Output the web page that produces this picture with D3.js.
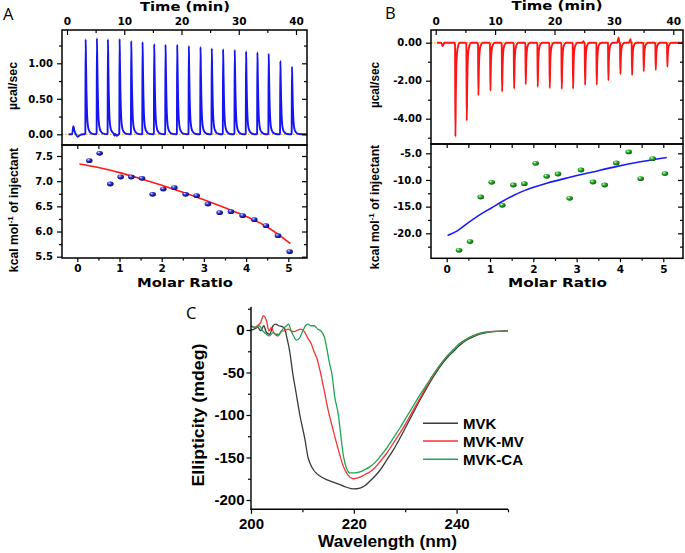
<!DOCTYPE html>
<html><head><meta charset="utf-8">
<script src="https://cdn.jsdelivr.net/npm/d3@7"></script>
<style>body{margin:0;background:#fff}svg{display:block}</style>
</head><body><svg id="c" width="685" height="553"></svg>
<script>
// ---------------- DATA ----------------
const timeTicks = [0, 10, 20, 30, 40];
const timeMinor = [5, 15, 25, 35];
const molarTicks = [0, 1, 2, 3, 4, 5];
const molarMinor = [0.5, 1.5, 2.5, 3.5, 4.5];

// Panel A raw ITC (µcal/sec)
const injTimeA = [3.20, 5.17, 7.09, 9.13, 11.16, 13.14, 15.17, 17.15, 19.19, 21.22, 23.26, 25.23, 27.21, 29.24, 31.22, 33.20, 35.17, 37.21, 39.24];
const injPeakA = [1.338, 1.352, 1.338, 1.343, 1.315, 1.300, 1.272, 1.263, 1.263, 1.244, 1.230, 1.210, 1.200, 1.188, 1.169, 1.155, 1.136, 1.033, 0.953];
const spikeDtA = [-0.1, 0, 0.06, 0.12, 0.2, 0.3, 0.4, 0.55, 0.75, 1.0, 1.3];
const spikeFrA = [0, 0.01, 1, 0.75, 0.45, 0.22, 0.12, 0.06, 0.03, 0.012, 0.004];
const extraA = [[0.9, 0], [1.1, 0.115], [1.3, 0.05], [1.55, 0.0], [1.87, -0.034], [2.3, -0.01], [2.8, 0], [8.3, -0.018], [8.7, -0.02], [9.0, -0.005]];
const yTicksA1 = [0, 0.5, 1.0];
const yMinorA1 = [0.25, 0.75, 1.25];

// Panel A integrated heats (kcal/mol of injectant)
const molarA = [0.284, 0.529, 0.782, 1.027, 1.280, 1.532, 1.785, 2.038, 2.299, 2.567, 2.828, 3.096, 3.373, 3.641, 3.918, 4.194, 4.471, 4.755, 5.032];
const kcalA = [7.407, 7.553, 6.944, 7.083, 7.083, 7.056, 6.738, 6.844, 6.871, 6.738, 6.712, 6.546, 6.374, 6.394, 6.315, 6.235, 6.116, 5.917, 5.599];
const fitAx = [0.05, 0.5, 1.0, 1.5, 2.0, 2.5, 3.0, 3.5, 4.0, 4.5, 5.05];
const fitAy = [7.34, 7.27, 7.17, 7.05, 6.92, 6.78, 6.63, 6.47, 6.30, 6.09, 5.76];
const yTicksA2 = [5.5, 6.0, 6.5, 7.0, 7.5];
const yMinorA2 = [5.75, 6.25, 6.75, 7.25];

// Panel B raw ITC
const injTimeB = [3.25, 5.16, 7.12, 9.14, 11.11, 13.13, 15.09, 17.11, 19.13, 21.15, 23.06, 25.08, 27.04, 29.00, 31.02, 32.99, 34.95, 36.97, 38.93];
const injPeakB = [-4.95, -4.10, -2.77, -2.53, -2.58, -2.42, -2.19, -2.32, -2.39, -2.44, -2.42, -2.23, -2.21, -1.98, -1.65, -1.70, -1.51, -1.44, -1.26];
const spikeDtB = [-0.1, 0, 0.07, 0.14, 0.22, 0.35, 0.55, 0.8];
const spikeFrB = [0, 0.02, 1, 0.55, 0.25, 0.1, 0.03, 0];
const extraB = [[0.9, 0], [1.2, -0.17], [1.45, 0], [24.7, 0], [24.9, 0.08], [25.0, 0.01], [30.55, 0], [30.8, 0.28], [30.95, 0.03], [32.5, 0], [32.8, 0.18], [32.93, 0.02]];
const yTicksB1 = [0, -2, -4];
const yMinorB1 = [-1, -3, -5];

// Panel B integrated heats
const molarB = [0.285, 0.538, 0.785, 1.038, 1.285, 1.538, 1.792, 2.054, 2.308, 2.569, 2.838, 3.100, 3.377, 3.646, 3.915, 4.200, 4.477, 4.754, 5.038];
const kcalB = [-23.19, -21.56, -13.19, -10.44, -14.75, -10.94, -10.69, -6.88, -9.31, -8.88, -13.44, -8.13, -10.38, -10.94, -6.81, -4.75, -9.75, -6.00, -8.81];
const fitBx = [0.02, 0.27, 0.5, 0.77, 1.04, 1.29, 1.54, 1.79, 2.31, 2.84, 3.37, 3.91, 4.47, 5.08];
const fitBy = [-20.4, -19.4, -18.0, -16.5, -15.2, -14.0, -12.9, -12.0, -10.6, -9.5, -8.5, -7.5, -6.6, -5.8];
const yTicksB2 = [-5, -10, -15, -20];
const yMinorB2 = [-7.5, -12.5, -17.5, -22.5];

// Panel C CD spectra
const wlMVK = [200, 200.6, 201.3, 201.9, 202.5, 203, 203.6, 204.3, 204.8, 205.4, 206.1, 206.6, 206.9, 207.5, 208.1, 208.8, 209.5, 210.5, 211.1, 211.5, 212.2, 212.8, 213.7, 214.7, 216, 217.3, 218.6, 219.9, 221.2, 222.2, 223.1, 224.1, 225.1, 226.4, 227.7, 229, 230.3, 231.6, 232.9, 234.2, 235.5, 236.8, 238.1, 239.4, 240.6, 241.9, 243.2, 244.5, 245.8, 247.9, 250];
const cdMVK = [0, 1, 3, -1, 5, -3, -5, 5, 7, 5, 4, 1, -7, -24, -50, -75, -100, -129, -150, -157, -165, -169, -173, -176, -179, -182, -185, -187, -186, -183, -178, -172, -165, -153, -141, -127, -112, -97, -82, -68, -55, -43, -33, -25, -18, -12, -8, -5, -3, -1.5, -1];
const wlMV = [200, 200.6, 201.2, 201.9, 202.4, 203, 203.5, 204, 204.4, 205.3, 205.9, 206.5, 207.2, 207.8, 208.4, 209.1, 209.7, 210.4, 211, 211.7, 212.3, 212.8, 213.4, 214.1, 215, 216, 217, 218, 218.9, 219.9, 221.2, 222.2, 223.1, 224.1, 225.1, 226.4, 227.7, 229, 230.3, 231.6, 232.9, 234.2, 235.5, 236.8, 238.1, 239.4, 240.6, 241.9, 243.2, 244.5, 245.8, 247.9, 250];
const cdMV = [5, 3, 5, 9, 17, 11, -1, 3, -3, -7, -1, -1, 1, -1, -2, 0, 1, -2, -9, -16, -26, -33, -47, -67, -94, -118, -141, -161, -171, -175, -173, -170, -167, -162, -155, -145, -133, -121, -108, -94, -80, -66, -53, -41, -31, -23, -16, -11, -7, -4, -2.5, -1.5, -1];
const wlCA = [200, 201, 201.6, 202.3, 203, 203.6, 204.3, 204.9, 205.5, 206.2, 206.9, 207.3, 207.8, 208.3, 208.8, 209.5, 210.1, 210.6, 211.1, 211.7, 212.3, 213, 213.6, 214.3, 214.7, 215.3, 215.7, 216.3, 217, 217.3, 218, 218.6, 219.2, 220.2, 221.2, 222.2, 223.1, 224.1, 225.1, 226.4, 227.7, 229, 230.3, 231.6, 232.9, 234.2, 235.5, 236.8, 238.1, 239.4, 240.6, 241.9, 243.2, 244.5, 245.8, 247.9, 250];
const cdCA = [5, 3, 5, -1, -5, -7, -3, -5, -5, 1, 5, 7, -1, -7, -12, -9, -1, 5, 7, 5, 5, 1, -1, -9, -20, -40, -50, -79, -100, -115, -149, -163, -168, -168, -167, -164, -161, -156, -149, -139, -127, -115, -102, -89, -76, -64, -52, -41, -31, -23, -16, -11, -7, -4, -2.5, -1.5, -1];
const cdXTicks = [200, 220, 240];
const cdXMinor = [210, 230, 250];
const cdYTicks = [-200, -150, -100, -50, 0];
const cdYMinor = [-175, -125, -75, -25, 25];
const legendLabels = ["MVK", "MVK-MV", "MVK-CA"];
const legendColors = ["#3a3a3a", "#f23535", "#22a455"];

// ---------------- DRAWING ----------------
const svg = d3.select("#c");
svg.append("rect").attr("width", 685).attr("height", 553).attr("fill", "#fff");
const defs = svg.append("defs");
function sphereGrad(id, c0, c1, c2) {
  const g = defs.append("radialGradient").attr("id", id).attr("cx", "40%").attr("cy", "40%").attr("r", "65%").attr("fx", "35%").attr("fy", "30%");
  g.append("stop").attr("offset", "0%").attr("stop-color", c0);
  g.append("stop").attr("offset", "40%").attr("stop-color", c1);
  g.append("stop").attr("offset", "100%").attr("stop-color", c2);
}
sphereGrad("gBlue", "#dfe6ff", "#3535d0", "#00006a");
sphereGrad("gGreen", "#e0ffe0", "#2fb02f", "#005500");

const TF = "DejaVu Sans";
const LF = "Liberation Sans, Arial, sans-serif";

function styleAxis(g, size, fam) {
  g.select(".domain").remove();
  g.selectAll("line").attr("stroke", "#000").attr("stroke-width", 1.2);
  g.selectAll("text").attr("font-family", fam || TF).attr("font-weight", "bold").attr("font-size", size || 10).attr("fill", "#000");
}
function addAxis(axis, tx, ty, size, fam) {
  const g = svg.append("g").attr("transform", `translate(${tx},${ty})`).call(axis);
  styleAxis(g, size, fam);
  return g;
}
function frame(x0, y0, x1, y1) {
  svg.append("rect").attr("x", x0).attr("y", y0).attr("width", x1 - x0).attr("height", y1 - y0)
    .attr("fill", "none").attr("stroke", "#000").attr("stroke-width", 1.5);
}
function clip(id, x0, y0, x1, y1) {
  defs.append("clipPath").attr("id", id).append("rect").attr("x", x0).attr("y", y0).attr("width", x1 - x0).attr("height", y1 - y0);
}
function buildTrace(times, peaks, dt, fr, extra, t0, t1) {
  const pts = [[t0, 0], [t1, 0]];
  extra.forEach(p => pts.push(p));
  times.forEach((t, i) => dt.forEach((d, j) => pts.push([t + d, peaks[i] * fr[j]])));
  pts.sort((a, b) => a[0] - b[0]);
  return pts;
}
function title(x, y, txt, len, size, fam, rot) {
  const t = svg.append("text").attr("text-anchor", "middle").attr("font-family", fam || TF)
    .attr("font-weight", "bold").attr("font-size", size).attr("fill", "#000").text(txt);
  if (len) t.attr("textLength", len).attr("lengthAdjust", "spacingAndGlyphs");
  if (rot) t.attr("transform", `translate(${x},${y}) rotate(-90)`).attr("dominant-baseline", "central");
  else t.attr("x", x).attr("y", y);
  return t;
}
function kcalLabel(x, y) {
  const t = svg.append("text").attr("text-anchor", "middle").attr("dominant-baseline", "central")
    .attr("font-family", LF).attr("font-weight", "bold").attr("font-size", 12.2).attr("fill", "#000")
    .attr("transform", `translate(${x},${y}) rotate(-90)`);
  t.append("tspan").text("kcal mol");
  t.append("tspan").attr("font-size", 8).attr("dy", -4.5).text("-1");
  t.append("tspan").attr("dy", 4.5).text(" of injectant");
}
const fmt2 = d => d.toFixed(2);
const fmt1 = d => d.toFixed(1);

// ---------- Panel generic builder ----------
function itcPanel(o) {
  const { L, R, T, M, B } = o;
  // top raw panel
  const xT = d3.scaleLinear().domain([0, 40]).range(o.tRange);
  const yT = d3.scaleLinear().domain(o.yTDom).range(o.yTRange);
  clip(o.id + "c1", L, T, R, M);
  if (o.baseColor) {
    svg.append("line").attr("x1", L).attr("x2", R).attr("y1", yT(0)).attr("y2", yT(0))
      .attr("stroke", o.baseColor).attr("stroke-width", 1).attr("stroke-dasharray", "1.5,1.5");
  }
  const trace = buildTrace(o.inj, o.peaks, o.dt, o.fr, o.extra, o.t0, o.t1);
  svg.append("path").datum(trace).attr("clip-path", `url(#${o.id}c1)`)
    .attr("fill", "none").attr("stroke", o.traceColor).attr("stroke-width", 1.9).attr("stroke-linejoin", "round")
    .attr("d", d3.line().x(d => xT(d[0])).y(d => yT(d[1])).curve(d3.curveMonotoneX));
  addAxis(d3.axisLeft(yT).tickValues(o.yT).tickSize(5).tickPadding(4).tickFormat(fmt2), L, 0);
  addAxis(d3.axisLeft(yT).tickValues(o.yTm).tickSize(3).tickFormat(""), L, 0);
  addAxis(d3.axisRight(yT).tickValues(o.yT).tickSize(-5).tickFormat(""), R, 0);
  addAxis(d3.axisRight(yT).tickValues(o.yTm).tickSize(-3).tickFormat(""), R, 0);
  addAxis(d3.axisTop(xT).tickValues(timeTicks).tickSize(-5).tickPadding(5.5).tickFormat(d3.format("d")), 0, T, 10.5);
  addAxis(d3.axisTop(xT).tickValues(timeMinor).tickSize(-3).tickFormat(""), 0, T);
  frame(L, T, R, M);

  // bottom integrated panel
  const xB = d3.scaleLinear().domain([0, 5]).range(o.mRange);
  const yB = d3.scaleLinear().domain(o.yBDom).range(o.yBRange);
  clip(o.id + "c2", L, M, R, B);
  svg.append("path").datum(d3.zip(o.fitX, o.fitY)).attr("clip-path", `url(#${o.id}c2)`)
    .attr("fill", "none").attr("stroke", o.fitColor).attr("stroke-width", 1.6)
    .attr("d", d3.line().x(d => xB(d[0])).y(d => yB(d[1])).curve(d3.curveMonotoneX));
  svg.append("g").selectAll("ellipse").data(d3.zip(o.mx, o.my)).join("ellipse")
    .attr("cx", d => xB(d[0])).attr("cy", d => yB(d[1])).attr("rx", 3.3).attr("ry", 2.4)
    .attr("fill", `url(#${o.grad})`);
  addAxis(d3.axisLeft(yB).tickValues(o.yB).tickSize(5).tickPadding(4).tickFormat(fmt1), L, 0);
  addAxis(d3.axisLeft(yB).tickValues(o.yBm).tickSize(3).tickFormat(""), L, 0);
  addAxis(d3.axisRight(yB).tickValues(o.yB).tickSize(-5).tickFormat(""), R, 0);
  addAxis(d3.axisRight(yB).tickValues(o.yBm).tickSize(-3).tickFormat(""), R, 0);
  addAxis(d3.axisBottom(xB).tickValues(molarTicks).tickSize(4).tickPadding(3).tickFormat(d3.format("d")), 0, B, 10.5);
  addAxis(d3.axisBottom(xB).tickValues(molarMinor).tickSize(2.5).tickFormat(""), 0, B);
  addAxis(d3.axisBottom(xB).tickValues(molarTicks.concat(molarMinor)).tickSize(4).tickFormat(""), 0, M);
  frame(L, M, R, B);
}

itcPanel({ id: "A", L: 62, R: 307, T: 30, M: 145, B: 258,
  tRange: [67, 296], yTDom: [0, 1], yTRange: [134.3, 63.3],
  inj: injTimeA, peaks: injPeakA, dt: spikeDtA, fr: spikeFrA, extra: extraA, t0: 0.3, t1: 41.9,
  traceColor: "#1414f5", baseColor: "#c9a21a", yT: yTicksA1, yTm: yMinorA1,
  mRange: [77.3, 288.3], yBDom: [5.5, 7.5], yBRange: [256.7, 156],
  fitX: fitAx, fitY: fitAy, fitColor: "#ff1a1a", mx: molarA, my: kcalA, grad: "gBlue",
  yB: yTicksA2, yBm: yMinorA2 });

itcPanel({ id: "B", L: 431, R: 683, T: 30, M: 144, B: 258.3,
  tRange: [435.7, 673.3], yTDom: [0, -4], yTRange: [42.7, 118.7],
  inj: injTimeB, peaks: injPeakB, dt: spikeDtB, fr: spikeFrB, extra: extraB, t0: 0.2, t1: 41.6,
  traceColor: "#ff1414", baseColor: "#d9a020", yT: yTicksB1, yTm: yMinorB1,
  mRange: [446.7, 663.3], yBDom: [-5, -20], yBRange: [153.3, 233.3],
  fitX: fitBx, fitY: fitBy, fitColor: "#1a1aff", mx: molarB, my: kcalB, grad: "gGreen",
  yB: yTicksB2, yBm: yMinorB2 });

// titles A/B
title(185, 10.7, "Time (min)", 90, 12, TF);
title(557, 10.2, "Time (min)", 91, 12, TF);
title(185, 286.6, "Molar Ratio", 96, 12.3, TF);
title(557.5, 287, "Molar Ratio", 99, 12.3, TF);
title(13.3, 86, "\u00b5cal/sec", 48, 12.5, LF, true);
title(375, 85, "\u00b5cal/sec", 46, 12.5, LF, true);
kcalLabel(14, 210);
kcalLabel(375, 207);

// panel letters
svg.append("text").attr("x", 3).attr("y", 19.5).attr("font-family", "Open Sans").attr("font-size", 16.5).text("A");
svg.append("text").attr("x", 385).attr("y", 18.5).attr("font-family", "Open Sans").attr("font-size", 16.5).text("B");
svg.append("text").attr("x", 186).attr("y", 318.5).attr("font-family", "Open Sans").attr("font-size", 16.5).text("C");

// ---------- Panel C ----------
const xC = d3.scaleLinear().domain([200, 250]).range([251, 508]);
const yC = d3.scaleLinear().domain([0, -200]).range([330, 500]);
const lineC = d3.line().x(d => xC(d[0])).y(d => yC(d[1])).curve(d3.curveMonotoneX);
const seriesC = [[wlMVK, cdMVK], [wlMV, cdMV], [wlCA, cdCA]];
seriesC.forEach((s, i) => {
  svg.append("path").datum(d3.zip(s[0], s[1])).attr("fill", "none")
    .attr("stroke", legendColors[i]).attr("stroke-width", 1.3).attr("stroke-linejoin", "round").attr("d", lineC);
});
const axLine = (x1, y1, x2, y2) => svg.append("line").attr("x1", x1).attr("y1", y1).attr("x2", x2).attr("y2", y2).attr("stroke", "#000").attr("stroke-width", 1.4);
addAxis(d3.axisLeft(yC).tickValues(cdYTicks).tickSize(4.5).tickPadding(2).tickFormat(d => String(d)), 251, 0, 15, LF);
addAxis(d3.axisLeft(yC).tickValues(cdYMinor).tickSize(3).tickFormat(""), 251, 0);
addAxis(d3.axisBottom(xC).tickValues(cdXTicks).tickSize(4.5).tickPadding(4.3).tickFormat(d => String(d)), 0, 509.3, 15, LF);
addAxis(d3.axisBottom(xC).tickValues(cdXMinor).tickSize(3).tickFormat(""), 0, 509.3);
axLine(251, 306.7, 251, 510);
axLine(250.3, 509.3, 508, 509.3);
title(387.5, 546.7, "Wavelength (nm)", 139, 16.5, LF);
title(198.3, 415, "Ellipticity (mdeg)", 143, 16, LF, true);

// legend
const lgY = [423.3, 441, 459.3];
legendLabels.forEach((lab, i) => {
  svg.append("line").attr("x1", 423).attr("x2", 458).attr("y1", lgY[i]).attr("y2", lgY[i])
    .attr("stroke", legendColors[i]).attr("stroke-width", 1.6);
  svg.append("text").attr("x", 463).attr("y", lgY[i] + 5.5).attr("font-family", LF).attr("font-weight", "bold")
    .attr("font-size", 15).attr("fill", "#000").text(lab);
});
</script></body></html>
